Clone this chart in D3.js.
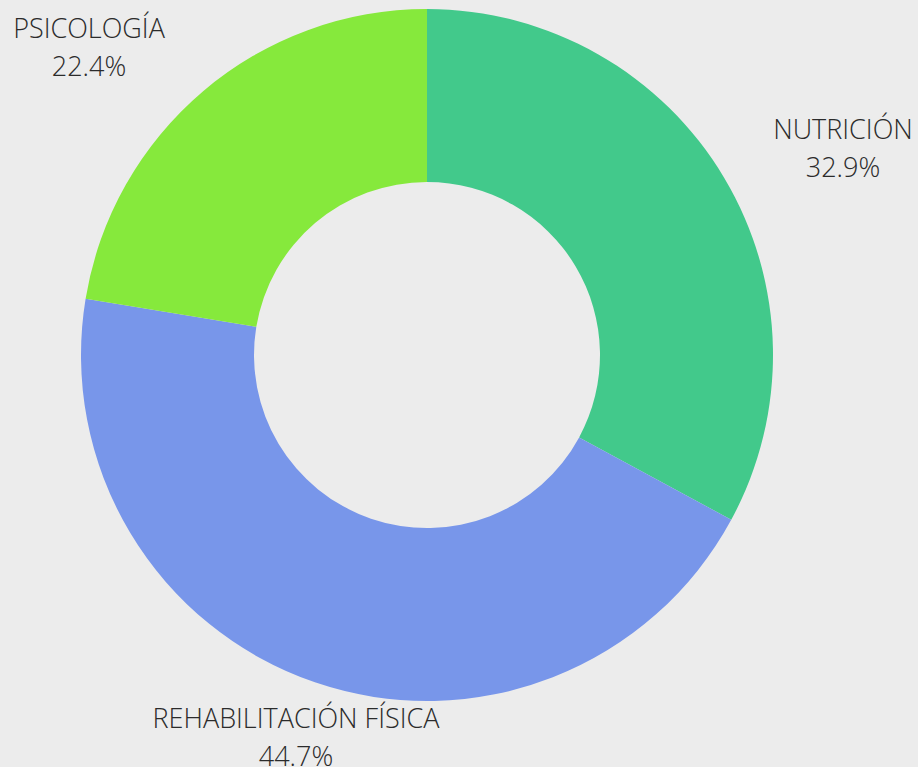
<!DOCTYPE html>
<html>
<head>
<meta charset="utf-8">
<script src="https://cdn.jsdelivr.net/npm/d3@7"></script>
<style>
  html, body { margin: 0; padding: 0; background: #ececec; }
  svg { display: block; }
  .lbl { font-family: "Open Sans", sans-serif; font-weight: 300; font-size: 27px; fill: #2b2b2b; }
</style>
</head>
<body>
<div id="chart"></div>
<script>
const categories = ["NUTRICIÓN", "REHABILITACIÓN FÍSICA", "PSICOLOGÍA"]
const values = [32.9, 44.7, 22.4]
const colors = ["#42c98b", "#7896ea", "#86e93c"]

const width = 918, height = 767
const cx = 427, cy = 355
const outerR = 346, innerR = 173

// where each label block sits (center x, first baseline y)
const labelPos = [[843, 139], [296, 728], [89, 38]]

const svg = d3.select("#chart").append("svg")
    .attr("width", width)
    .attr("height", height)

const g = svg.append("g")
    .attr("transform", "translate(" + cx + "," + cy + ")")

const pie = d3.pie().sort(null).value(function (d) { return d })
const arc = d3.arc().innerRadius(innerR).outerRadius(outerR)

g.selectAll("path")
    .data(pie(values))
    .enter()
    .append("path")
    .attr("d", arc)
    .style("fill", function (d, i) { return colors[i] })

const lbl = svg.append("g")
    .selectAll("text")
    .data(categories)
    .enter()
    .append("text")
    .attr("class", "lbl")
    .attr("text-anchor", "middle")
    .attr("x", function (d, i) { return labelPos[i][0] })
    .attr("y", function (d, i) { return labelPos[i][1] })

lbl.append("tspan")
    .text(function (d) { return d })

lbl.append("tspan")
    .attr("x", function (d, i) { return labelPos[i][0] })
    .attr("dy", 38)
    .text(function (d, i) { return d3.format(".1f")(values[i]) + "%" })
</script>
</body>
</html>
